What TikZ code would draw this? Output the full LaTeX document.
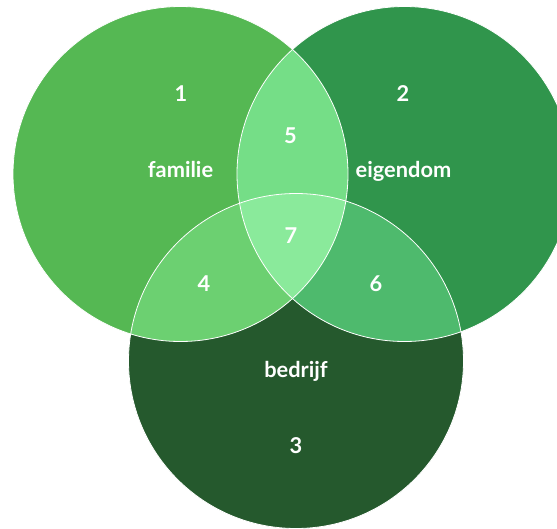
\documentclass[tikz,border=0pt]{standalone}
\usepackage{fontspec}
\setmainfont{Lato}
\definecolor{famgreen}{HTML}{55B853}
\definecolor{eiggreen}{HTML}{30954C}
\definecolor{bedgreen}{HTML}{25592D}
\definecolor{fegreen}{HTML}{75DE87}
\definecolor{fbgreen}{HTML}{6CD071}
\definecolor{ebgreen}{HTML}{4EBA6D}
\definecolor{allgreen}{HTML}{8AEA9B}
\tikzset{lbl/.style={text=white,font=\bfseries\fontsize{21.8}{26}\selectfont,anchor=base,inner sep=0pt}}
\begin{document}
\begin{tikzpicture}[x=1pt,y=-1pt]
	\clip (0,0) rectangle (557,528);
	\coordinate (cf) at (180.5,174);
	\coordinate (ce) at (404.5,174);
	\coordinate (cb) at (296,361);

	\fill[famgreen] (cf) circle[radius=167.5pt];
	\fill[eiggreen] (ce) circle[radius=167.5pt];
	\fill[bedgreen] (cb) circle[radius=167.5pt];
	\begin{scope}
		\clip (ce) circle[radius=167.5pt];
		\fill[ebgreen] (cb) circle[radius=167.5pt];
	\end{scope}
	\begin{scope}
		\clip (cf) circle[radius=167.5pt];
		\fill[fegreen] (ce) circle[radius=167.5pt];
		\fill[fbgreen] (cb) circle[radius=167.5pt];
		\clip (ce) circle[radius=167.5pt];
		\fill[allgreen] (cb) circle[radius=167.5pt];
	\end{scope}
	\draw[white,line width=0.8pt] (cf) circle[radius=167.5pt];
	\draw[white,line width=0.8pt] (ce) circle[radius=167.5pt];
	\draw[white,line width=0.8pt] (cb) circle[radius=167.5pt];

	\node[lbl] (n1) at (181,101) {1};
	\node[lbl] (n2) at (403,101) {2};
	\node[lbl] (n3) at (296,453) {3};
	\node[lbl] (n5) at (290.5,143) {5};
	\node[lbl] (n7) at (291,243) {7};
	\node[lbl] (n4) at (204,291) {4};
	\node[lbl] (n6) at (376,291) {6};
	\node[lbl] (fam) at (180.5,177) {familie};
	\node[lbl] (eig) at (403.5,177) {eigendom};
	\node[lbl] (bed) at (296,377) {bedrijf};
\end{tikzpicture}
\end{document}
